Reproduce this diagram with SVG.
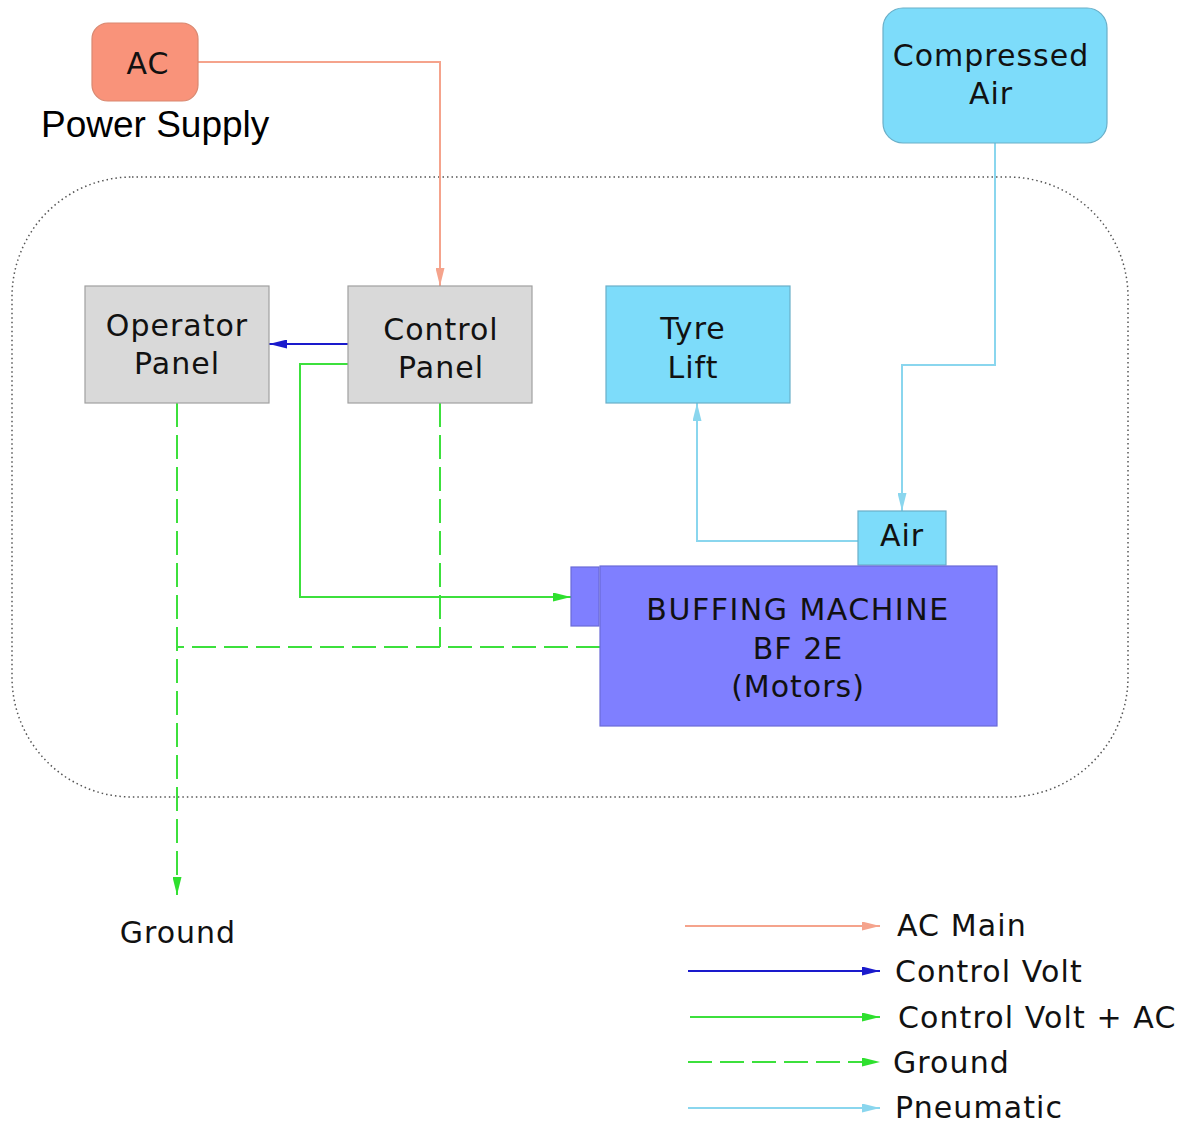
<svg xmlns="http://www.w3.org/2000/svg" width="1192" height="1124" viewBox="0 0 1192 1124">
<defs>
<style>
.t{font-family:"DejaVu Sans",Verdana,sans-serif;font-size:30px;fill:#111;text-anchor:middle;letter-spacing:1px}
.lg{font-family:"DejaVu Sans",Verdana,sans-serif;font-size:30px;fill:#111;letter-spacing:1.1px}
.gray{fill:#D9D9D9;stroke:#A0A0A0;stroke-width:1.2}
.cyan{fill:#7DDCFA;stroke:#6AAFC8;stroke-width:1.2}
.blue{fill:#7F7FFF;stroke:#6A6AD8;stroke-width:1.2}
.ac{stroke:#F5A38C;stroke-width:2;fill:none}
.cv{stroke:#1A1ACC;stroke-width:2;fill:none}
.cva{stroke:#3CE03C;stroke-width:2;fill:none}
.gnd{stroke:#3CE03C;stroke-width:2;fill:none;stroke-dasharray:24 8}
.pn{stroke:#8AD6EE;stroke-width:2;fill:none}
</style>
<marker id="mAC" viewBox="0 0 18 9" refX="18" refY="4.5" markerWidth="18" markerHeight="9" markerUnits="userSpaceOnUse" orient="auto"><path d="M0,0 L18,4.5 L0,9 Z" fill="#F5A38C"/></marker>
<marker id="mCV" viewBox="0 0 18 9" refX="18" refY="4.5" markerWidth="18" markerHeight="9" markerUnits="userSpaceOnUse" orient="auto"><path d="M0,0 L18,4.5 L0,9 Z" fill="#1A1ACC"/></marker>
<marker id="mG" viewBox="0 0 18 9" refX="18" refY="4.5" markerWidth="18" markerHeight="9" markerUnits="userSpaceOnUse" orient="auto"><path d="M0,0 L18,4.5 L0,9 Z" fill="#2EE02E"/></marker>
<marker id="mP" viewBox="0 0 18 9" refX="18" refY="4.5" markerWidth="18" markerHeight="9" markerUnits="userSpaceOnUse" orient="auto"><path d="M0,0 L18,4.5 L0,9 Z" fill="#8AD6EE"/></marker>
</defs>
<rect width="1192" height="1124" fill="#fff"/>
<rect id="boundary" x="12" y="177" width="1116" height="620" rx="120" ry="120" fill="none" stroke="#555" stroke-width="1.5" stroke-dasharray="1.5 3"/>

<g id="connectors">
<path class="ac" d="M198,62 H440 V286" marker-end="url(#mAC)"/>
<path class="cv" d="M348,344 H269" marker-end="url(#mCV)"/>
<path class="cva" d="M348,364 H300 V597 H571" marker-end="url(#mG)"/>
<path class="gnd" d="M177,403 V895" marker-end="url(#mG)"/>
<path class="gnd" d="M440,403 V647"/>
<path class="gnd" d="M600,647 H177"/>
<path class="pn" d="M995,143 V365 H902 V511" marker-end="url(#mP)"/>
<path class="pn" d="M858,541 H697 V403" marker-end="url(#mP)"/>
</g>

<g id="ac-supply">
<rect x="92" y="23" width="106" height="78" rx="16" fill="#F9937A" stroke="#D98870" stroke-width="1.2"/>
<text class="t" x="148" y="74">AC</text>
<text x="41" y="137" font-family="'Liberation Sans',Arial,sans-serif" font-size="37" fill="#000">Power Supply</text>
</g>

<g id="compressed-air">
<rect class="cyan" x="883" y="8" width="224" height="135" rx="20"/>
<text class="t" x="991" y="66">Compressed</text>
<text class="t" x="991" y="104">Air</text>
</g>

<g id="operator-panel">
<rect class="gray" x="85" y="286" width="184" height="117"/>
<text class="t" x="177" y="336">Operator</text>
<text class="t" x="177" y="374">Panel</text>
</g>

<g id="control-panel">
<rect class="gray" x="348" y="286" width="184" height="117"/>
<text class="t" x="441" y="340">Control</text>
<text class="t" x="441" y="378">Panel</text>
</g>

<g id="tyre-lift">
<rect class="cyan" x="606" y="286" width="184" height="117"/>
<text class="t" x="693" y="339">Tyre</text>
<text class="t" x="693" y="378">Lift</text>
</g>

<g id="air">
<rect class="cyan" x="858" y="511" width="88" height="54"/>
<text class="t" x="902" y="546">Air</text>
</g>

<g id="buffing-machine">
<rect class="blue" x="571" y="567" width="28" height="59"/>
<rect class="blue" x="600" y="566" width="397" height="160"/>
<text class="t" x="798" y="620" style="letter-spacing:1.5px">BUFFING MACHINE</text>
<text class="t" x="798" y="659">BF 2E</text>
<text class="t" x="798" y="697">(Motors)</text>
</g>

<g id="ground">
<text class="t" x="178" y="943">Ground</text>
</g>

<g id="legend">
<path class="ac" d="M685,926 H880" marker-end="url(#mAC)"/>
<path class="cv" d="M688,971 H880" marker-end="url(#mCV)"/>
<path class="cva" d="M690,1017 H880" marker-end="url(#mG)"/>
<path class="gnd" d="M688,1062 H880" marker-end="url(#mG)"/>
<path class="pn" d="M688,1108 H880" marker-end="url(#mP)"/>
<text class="lg" x="897" y="936">AC Main</text>
<text class="lg" x="895" y="982">Control Volt</text>
<text class="lg" x="898" y="1028">Control Volt + AC</text>
<text class="lg" x="893" y="1073">Ground</text>
<text class="lg" x="895" y="1118">Pneumatic</text>
</g>
</svg>
